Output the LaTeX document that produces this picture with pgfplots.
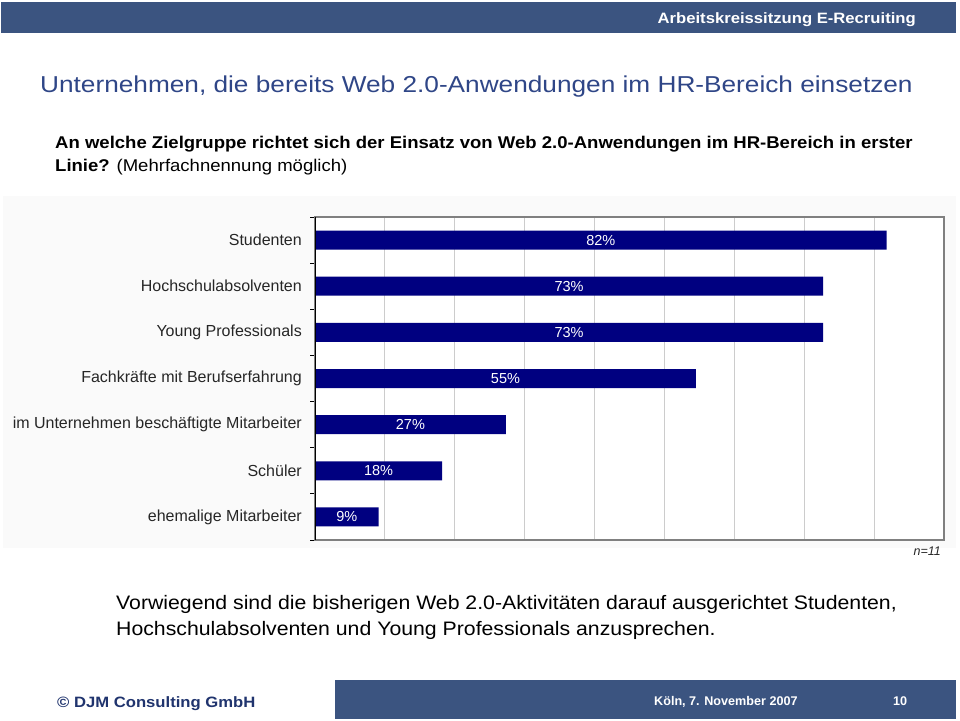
\documentclass[border=0pt]{standalone}
\usepackage{fontspec}
\setmainfont{Liberation Sans}
\usepackage{pgfplots}
\pgfplotsset{compat=1.18}
\definecolor{hdr}{RGB}{59,84,128}
\definecolor{ttl}{RGB}{47,70,135}
\definecolor{barblue}{RGB}{0,0,128}
\definecolor{foot}{RGB}{32,52,110}
\newcommand{\fs}[1]{\fontsize{#1}{#1}\selectfont}
\begin{document}
\begin{tikzpicture}[x=1pt,y=-1pt]
\useasboundingbox (0,0) rectangle (960,720);
\fill[white] (0,0) rectangle (960,720);
% header
\fill[hdr] (1,2) rectangle (956,33);
\node[anchor=base east, inner sep=0pt, text=white, font=\bfseries\fs{15}] at (916,23) {\scalebox{1.11}[1]{Arbeitskreissitzung E-Recruiting}};
% title
\node[anchor=base west, inner sep=0pt, text=ttl, font=\fs{23}] at (40,92) {\scalebox{1.14}[1]{Unternehmen, die bereits Web 2.0-Anwendungen im HR-Bereich einsetzen}};
% question
\node[anchor=base west, inner sep=0pt, font=\bfseries\fs{17}] at (55,148) {\scalebox{1.09}[1]{An welche Zielgruppe richtet sich der Einsatz von Web 2.0-Anwendungen im HR-Bereich in erster}};
\node[anchor=base west, inner sep=0pt, font=\fs{17}] at (55,171) {\scalebox{1.09}[1]{\textbf{Linie?} (Mehrfachnennung möglich)}};
% chart background
\fill[black!2] (3,196) rectangle (956,548);
\begin{axis}[
  at={(315pt,-540pt)}, anchor=south west,
  scale only axis, width=629pt, height=323pt,
  xbar, bar width=19pt,
  xmin=0, xmax=90, ymin=-0.5, ymax=6.5, y dir=reverse,
  axis background/.style={fill=white},
  axis line style={draw=black!50, line width=1.2pt},
  xtick={10,20,...,80}, xticklabels={},
  xmajorgrids, major x grid style={draw=black!20, line width=0.8pt},
  x tick style={draw=none},
  ytick={0,...,6},
  yticklabels={Studenten,Hochschulabsolventen,Young Professionals,Fachkräfte mit Berufserfahrung,im Unternehmen beschäftigte Mitarbeiter,Schüler,ehemalige Mitarbeiter},
  major tick length=0pt,
  minor ytick={-0.5,0.5,1.5,2.5,3.5,4.5,5.5,6.5},
  minor tick length=5pt, tick align=outside, ytick pos=left,
  minor y tick style={draw=black, line width=1pt},
  yticklabel style={font=\fs{16}, text=black!85, inner sep=0pt, xshift=-13pt},
  visualization depends on={rawx/2 \as \halfx},
  nodes near coords,
  point meta=explicit symbolic,
  every node near coord/.append style={anchor=center, text=white, font=\fs{14.5}, shift={(axis direction cs:-\halfx,0)}},
]
\addplot[fill=barblue, draw=none] coordinates {
  (81.8,0) [82\%]
  (72.7,1) [73\%]
  (72.7,2) [73\%]
  (54.5,3) [55\%]
  (27.3,4) [27\%]
  (18.2,5) [18\%]
  (9.1,6) [9\%]
};
\draw[black, line width=1.3pt] (axis cs:0,-0.5) -- (axis cs:0,6.5);
\end{axis}
\node[anchor=base east, inner sep=0pt, font=\itshape\fs{12.5}, text=black!85] at (941,555) {n=11};
% summary
\node[anchor=base west, inner sep=0pt, font=\fs{19.5}] at (116,609) {\scalebox{1.09}[1]{Vorwiegend sind die bisherigen Web 2.0-Aktivitäten darauf ausgerichtet Studenten,}};
\node[anchor=base west, inner sep=0pt, font=\fs{19.5}] at (116,635) {\scalebox{1.09}[1]{Hochschulabsolventen und Young Professionals anzusprechen.}};
% footer
\node[anchor=base west, inner sep=0pt, text=foot, font=\bfseries\fs{15}] at (57,707) {\scalebox{1.11}[1]{© DJM Consulting GmbH}};
\fill[hdr] (335,680) rectangle (956,719);
\node[anchor=base west, inner sep=0pt, text=white, font=\bfseries\fs{12.6}] at (654,705) {Köln, 7. November 2007};
\node[anchor=base west, inner sep=0pt, text=white, font=\bfseries\fs{12.6}] at (893,705) {10};
\end{tikzpicture}
\end{document}
